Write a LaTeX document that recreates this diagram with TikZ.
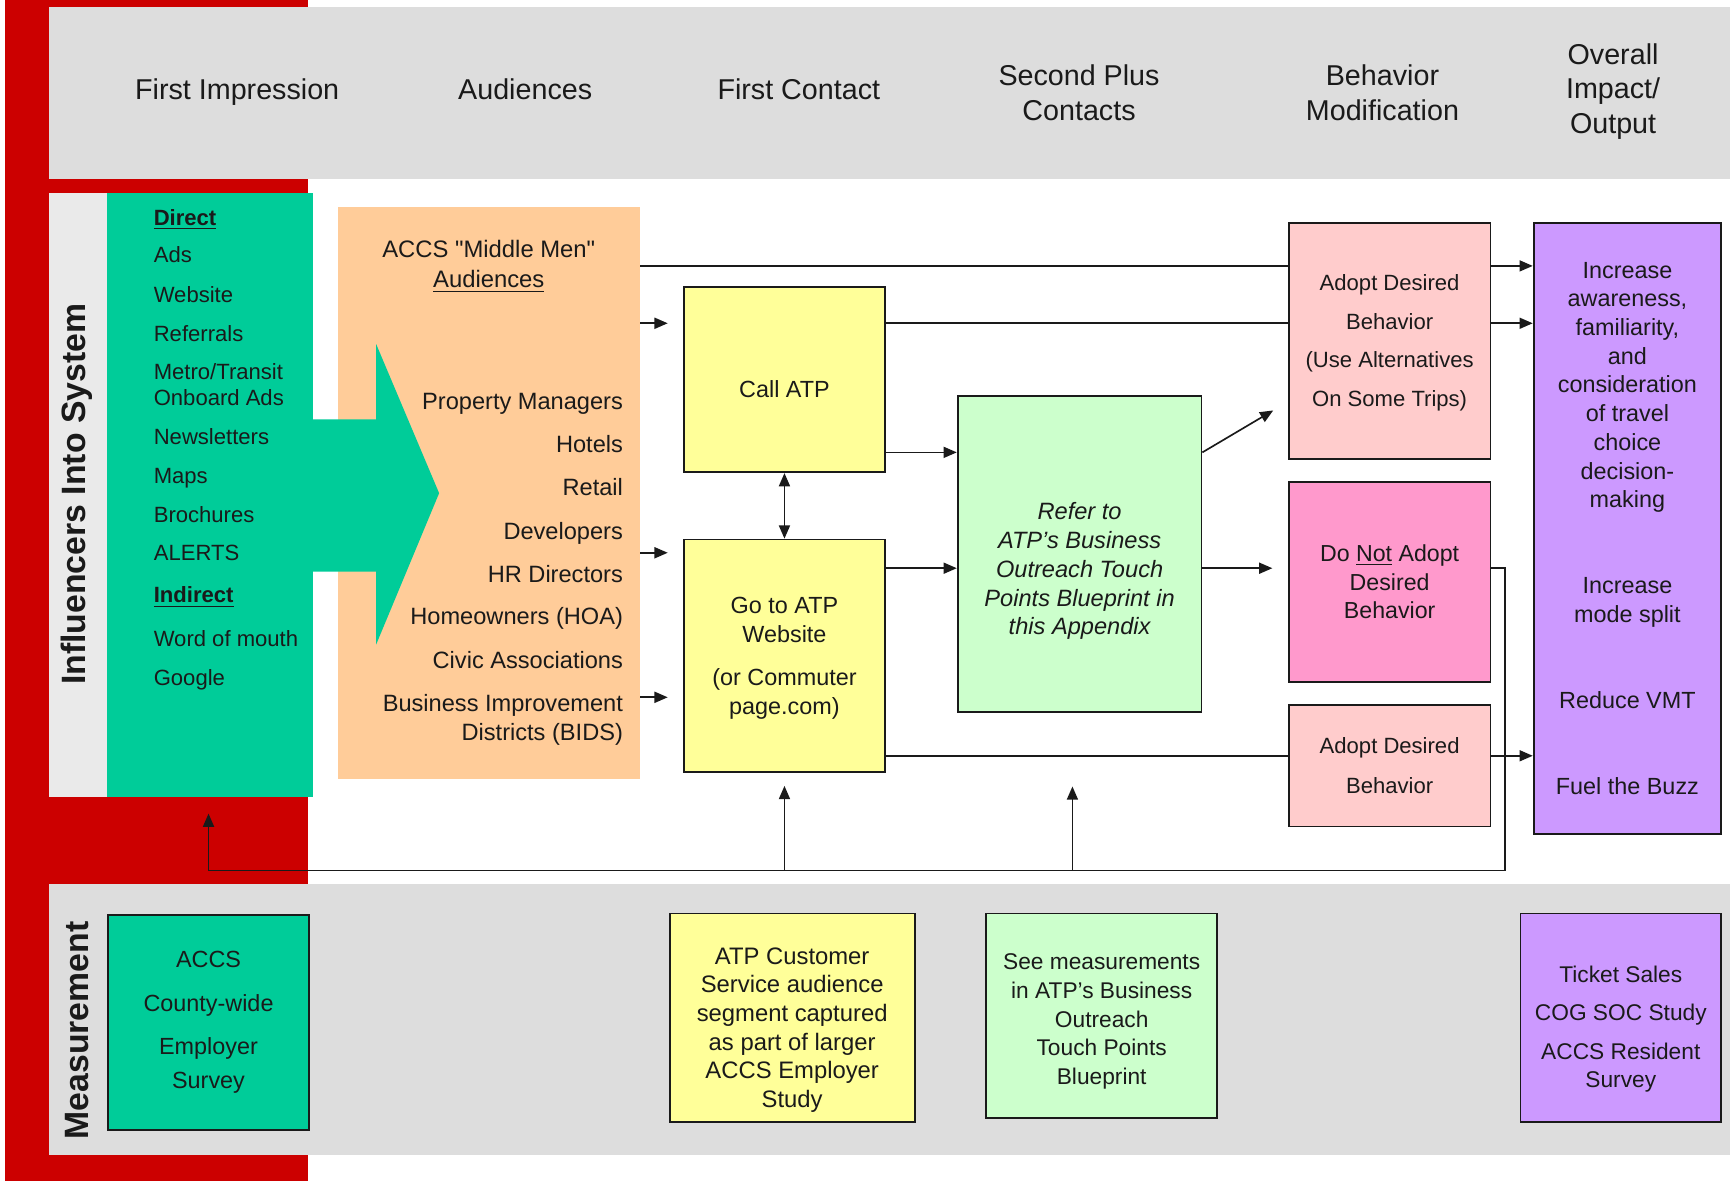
\documentclass[tikz,border=0pt]{standalone}
\usepackage{fontspec}
\setmainfont{Liberation Sans}
\newfontfamily\plainsans{Liberation Sans}[Ligatures=TeXOff]
\usetikzlibrary{arrows.meta,fit,calc}

\definecolor{bandred}{HTML}{CC0000}
\definecolor{panelgrey}{HTML}{DDDDDD}
\definecolor{colgrey}{HTML}{EAEAEA}
\definecolor{seagreen}{HTML}{00CC99}
\definecolor{peach}{HTML}{FFCC99}
\definecolor{lemon}{HTML}{FFFF99}
\definecolor{mint}{HTML}{CCFFCC}
\definecolor{blush}{HTML}{FFCCCC}
\definecolor{rose}{HTML}{FF99CC}
\definecolor{lilac}{HTML}{CC99FF}
\definecolor{ink}{HTML}{1A1A1A}

\pgfdeclarelayer{panel}
\pgfdeclarelayer{wire}
\pgfsetlayers{panel,wire,main}

% first-line strut that lowers a text block inside its box
\newcommand{\lowerby}[1]{\rule{0pt}{#1}}

\tikzset{
  box/.style={draw=ink, line width=0.8pt, inner sep=0pt, align=center,
    text=ink, font=\fontsize{10.6}{13}\selectfont},
  wire/.style={line width=0.75pt, draw=ink},
  arr/.style={wire, -{Triangle[length=6pt,width=5pt]}},
  biarr/.style={wire, {Triangle[length=6pt,width=5pt]}-{Triangle[length=6pt,width=5pt]}},
  head/.style={font=\fontsize{13}{15.5}\selectfont, align=center, text=ink},
  headone/.style={font=\fontsize{13}{15.5}\selectfont, text=ink, inner sep=0pt,
    text height=9.3pt, text depth=0pt},
  item/.style={anchor=west, inner sep=0pt, text=ink,
    font=\fontsize{10}{12}\selectfont, text height=7.2pt, text depth=0pt},
  ritem/.style={anchor=east, inner sep=0pt, text=ink,
    font=\fontsize{10.7}{12}\selectfont, text height=7.7pt, text depth=0pt},
  citem/.style={inner sep=0pt, text=ink,
    font=\fontsize{10.8}{12}\selectfont, text height=7.7pt, text depth=0pt},
  side/.style={rotate=90, text=ink, font=\bfseries\fontsize{15.3}{18}\selectfont},
}

\begin{document}
\begin{tikzpicture}[x=0.5pt,y=-0.5pt]
\useasboundingbox (0,0) rectangle (1568,1070);

% background bands
\begin{pgfonlayer}{panel}
  \fill[white] (0,0) rectangle (1568,1070);
  \fill[bandred] (4.5,0) rectangle (279,1070);
  \fill[panelgrey] (44,6) rectangle (1568,162);
  \fill[colgrey] (44,175) rectangle (97,722);
  \fill[panelgrey] (44,801) rectangle (1568,1047);
\end{pgfonlayer}

% column headings
\node[headone] (h1) at (215,81) {First Impression};
\node[headone] (h2) at (476,81) {Audiences};
\node[headone] (h3) at (724,81) {First Contact};
\node[head] (h4) at (978,84) {Second Plus\\Contacts};
\node[head] (h5) at (1253,84) {Behavior\\Modification};
\node[head] (h6) at (1462,83) {Overall\\Impact/\\Output};

% row labels
\node[side] (s1) at (70,448) {Influencers Into System};
\node[side] (s2) at (70,934) {Measurement};

% influencer column and audience block
\node[fit={(97,175) (284,722)}, inner sep=0pt, fill=seagreen] (direct) {};
\node[fit={(306,188) (580,706)}, inner sep=0pt, fill=peach] (mid) {};
\fill[seagreen] (280,380) -- (341,380) -- (341,312) -- (398,447)
  -- (341,584) -- (341,518) -- (280,518) -- cycle;

\foreach \t/\y [count=\i] in {{\textbf{\underline{Direct}}}/197, Ads/231,
    Website/267, Referrals/302, {Metro/Transit}/337, Onboard Ads/360,
    Newsletters/396, Maps/431, Brochures/466, ALERTS/501,
    {\textbf{\underline{Indirect}}}/539, Word of mouth/579, Google/614}
  \node[item] (d\i) at (139,\y) {\t};

\node[citem] (mm1) at (443,226) {\plainsans ACCS "Middle Men"};
\node[citem] (mm2) at (443,253) {\underline{Audiences}};
\foreach \t/\y [count=\i] in {Property Managers/363, Hotels/402, Retail/441,
    Developers/481, HR Directors/520, Homeowners (HOA)/558,
    Civic Associations/598, Business Improvement/637, Districts (BIDS)/663}
  \node[ritem] (a\i) at (565,\y) {\t};

% contact boxes
\node[box, fill=lemon, minimum width=91pt, minimum height=84pt]
  (call) at (711,344) {\lowerby{16.7pt}Call ATP};
\node[box, fill=lemon, minimum width=91pt, minimum height=105.5pt]
  (go) at (711,594.5) {\lowerby{9.5pt}Go to ATP\\Website\\[6.5pt](or Commuter\\page.com)};
\node[box, fill=mint, minimum width=110.5pt, minimum height=143pt,
  font=\itshape\fontsize{10.7}{13}\selectfont]
  (refer) at (978.5,502) {\lowerby{23.5pt}Refer to\\ATP’s Business\\Outreach Touch\\Points Blueprint in\\this Appendix};

% behaviour boxes
\node[box, fill=blush, minimum width=91.5pt, minimum height=107pt,
  font=\fontsize{10}{17.5}\selectfont]
  (adopt1) at (1259.5,309) {\lowerby{9pt}Adopt Desired\\Behavior\\(Use Alternatives\\On Some Trips)};
\node[box, fill=rose, minimum width=91.5pt, minimum height=90.5pt,
  font=\fontsize{10.5}{13}\selectfont]
  (donot) at (1259.5,527.5) {Do \underline{Not} Adopt\\Desired\\Behavior};
\node[box, fill=blush, minimum width=91.5pt, minimum height=55pt,
  font=\fontsize{10}{18}\selectfont]
  (adopt2) at (1259.5,694) {Adopt Desired\\Behavior};

% impact box
\node[box, fill=lilac, minimum width=85pt, minimum height=277pt,
  font=\fontsize{10.6}{13}\selectfont]
  (impact) at (1475,479) {Increase\\awareness,\\familiarity,\\and\\consideration\\of travel\\choice\\decision-\\making\\[26pt]Increase\\mode split\\[26pt]Reduce VMT\\[26pt]Fuel the Buzz};

% measurement boxes
\node[box, fill=seagreen, minimum width=91pt, minimum height=97.5pt,
  font=\fontsize{10.6}{15.5}\selectfont]
  (m1) at (189,926.5) {ACCS\\[4.5pt]County-wide\\[4pt]Employer\\Survey};
\node[box, fill=lemon, minimum width=111pt, minimum height=94.5pt,
  font=\fontsize{10.8}{13}\selectfont]
  (m2) at (718,922.5) {\lowerby{18.5pt}ATP Customer\\Service audience\\segment captured\\as part of larger\\ACCS Employer\\Study};
\node[box, fill=mint, minimum width=104.5pt, minimum height=92.5pt,
  font=\fontsize{10.3}{13}\selectfont]
  (m3) at (998.5,920.5) {\lowerby{12.5pt}See measurements\\in ATP’s Business\\Outreach\\Touch Points\\Blueprint};
\node[box, fill=lilac, minimum width=91pt, minimum height=94.5pt,
  font=\fontsize{10.3}{12.5}\selectfont]
  (m4) at (1469,922.5) {\lowerby{17.5pt}Ticket Sales\\[5pt]COG SOC Study\\[5pt]ACCS Resident\\Survey};

% connector levels
\coordinate (ya) at (0,241);
\coordinate (yb) at (0,293);
\coordinate (yd) at (0,410);
\coordinate (yf) at (0,501);
\coordinate (yh) at (0,515);
\coordinate (yg) at (0,632);
\coordinate (yk) at (0,685);
\coordinate (fbR) at (1364,789);
\coordinate (fbL) at (189,789);
\coordinate (fbM) at (711,789);
\coordinate (fbN) at (972,789);
\coordinate (diagend) at (1154,372);

\begin{pgfonlayer}{wire}
  \draw[arr] (mid.east |- ya) -- (impact.west |- ya);
  \draw[arr, shorten >=7pt] (mid.east |- yb) -- (call.west |- yb);
  \draw[arr] (call.east |- yb) -- (impact.west |- yb);
  \draw[arr] (call.east |- yd) -- (refer.west |- yd);
  \draw[biarr] (call.south) -- (go.north);
  \draw[arr, shorten >=7pt] (mid.east |- yf) -- (go.west |- yf);
  \draw[arr, shorten >=7pt] (mid.east |- yg) -- (go.west |- yg);
  \draw[arr] (go.east |- yh) -- (refer.west |- yh);
  \draw[arr] (refer.east |- yd) -- (diagend);
  \draw[arr, shorten >=7pt] (refer.east |- yh) -- (donot.west |- yh);
  \draw[arr] (go.east |- yk) -- (impact.west |- yk);
  \draw[arr, shorten >=7.5pt] (donot.east |- yh) -| (fbR) -- (fbL) -- (direct.south -| fbL);
  \draw[arr, shorten >=5.75pt] (fbM) -- (go.south);
  \draw[arr, shorten >=33.5pt] (fbN) -- (refer.south -| fbN);
\end{pgfonlayer}
\end{tikzpicture}
\end{document}
